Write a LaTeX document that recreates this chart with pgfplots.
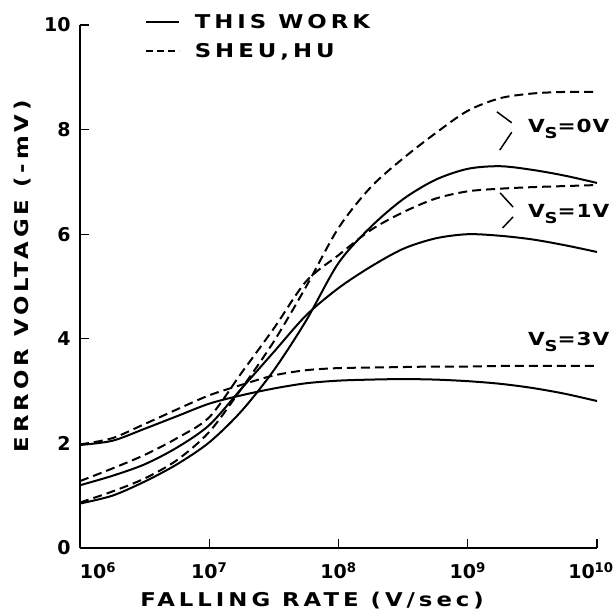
\documentclass[border=0pt]{standalone}
\usepackage{fontspec}
\setmainfont{DejaVu Sans}
\newfontfamily\labfont{DejaVu Sans}[FakeStretch=1.2, LetterSpace=21]
\newfontfamily\vsfont{DejaVu Sans}[FakeStretch=1.2, LetterSpace=5]
\usepackage{pgfplots}
\pgfplotsset{compat=1.18}
\pgfplotstableread{
x        s0    d0    s1    d1    s3    d3
1e6      0.85  0.87  1.20  1.28  1.97  1.98
1.778e6  1.00  1.08  1.38  1.52  2.05  2.10
3.162e6  1.27  1.33  1.60  1.78  2.28  2.37
5.623e6  1.60  1.68  1.92  2.10  2.52  2.65
1e7      2.02  2.22  2.35  2.50  2.76  2.92
1.778e7  2.62  3.05  3.05  3.35  2.92  3.12
3.162e7  3.40  3.95  3.75  4.20  3.05  3.30
5.623e7  4.35  5.00  4.45  5.10  3.15  3.40
1e8      5.45  6.12  4.97  5.60  3.20  3.44
1.778e8  6.14  6.90  5.38  6.08  3.22  3.45
3.162e8  6.67  7.45  5.72  6.42  3.23  3.46
5.623e8  7.04  7.93  5.92  6.68  3.22  3.47
1e9      7.25  8.36  6.00  6.82  3.19  3.47
1.778e9  7.30  8.60  5.97  6.87  3.14  3.48
3.162e9  7.23  8.69  5.90  6.90  3.06  3.48
5.623e9  7.12  8.72  5.79  6.92  2.95  3.48
1e10     6.98  8.72  5.66  6.94  2.81  3.48
}\datatab
\begin{document}
\begin{tikzpicture}
\begin{axis}[
  name=ax, clip=false,
  scale only axis, width=517pt, height=523pt,
  xmode=log, xmin=1e6, xmax=1e10, ymin=0, ymax=10,
  axis lines=left, axis line style={-, line width=1.4pt},
  tick align=inside, major tick length=9pt,
  tick style={line width=1.3pt, black},
  xminorticks=false,
  xtick={1e6,1e7,1e8,1e9,1e10},
  xticklabels={\hspace*{36pt}10\textsuperscript{6},10\textsuperscript{7},10\textsuperscript{8},10\textsuperscript{9},10\textsuperscript{10}\hspace*{12pt}},
  ytick={0,2,4,6,8,10},
  yticklabels={0,2,4,6,8,10},
  /pgf/number format/assume math mode=true,
  every tick label/.append style={font=\bfseries\fontsize{19}{22}\selectfont},
  yticklabel style={xshift=-6pt},
  xticklabel style={yshift=-11pt},
  xlabel={\labfont\bfseries FALLING RATE (V/sec)},
  ylabel={\labfont\bfseries ERROR VOLTAGE ({-}mV)},
  every axis x label/.style={at={(axis description cs:0.449,-0.1)}, anchor=center, font=\fontsize{19}{22}\selectfont},
  every axis y label/.style={at={(axis description cs:-0.112,0.52)}, rotate=90, anchor=center, font=\fontsize{19}{22}\selectfont},
  legend style={draw=none, fill=none, at={(axis description cs:0.125,1.024)}, anchor=north west,
    font=\labfont\bfseries\fontsize{19}{22}\selectfont, row sep=9pt, inner sep=0pt},
  legend cell align=left,
  legend image code/.code={\draw[#1] (0pt,0pt) -- (33pt,0pt); \path (46pt,0pt);},
  every axis plot/.append style={black, line width=2pt},
]
\addlegendimage{black, line width=2pt}
\addlegendentry{THIS WORK}
\addlegendimage{black, line width=2pt, dash pattern=on 7pt off 4pt}
\addlegendentry{SHEU,HU}
\addplot[smooth, forget plot] table[x=x, y=s0] {\datatab};
\addplot[smooth, forget plot, dash pattern=on 9pt off 5pt] table[x=x, y=d0] {\datatab};
\addplot[smooth, forget plot] table[x=x, y=s1] {\datatab};
\addplot[smooth, forget plot, dash pattern=on 9pt off 5pt] table[x=x, y=d1] {\datatab};
\addplot[smooth, forget plot] table[x=x, y=s3] {\datatab};
\addplot[smooth, forget plot, dash pattern=on 9pt off 5pt] table[x=x, y=d3] {\datatab};
% braces
\draw[line width=1.5pt] (axis cs:1.68e9,8.34) -- (axis cs:2.19e9,8.13);
\draw[line width=1.5pt] (axis cs:2.19e9,7.95) -- (axis cs:1.77e9,7.61);
\draw[line width=1.5pt] (axis cs:1.78e9,6.79) -- (axis cs:2.24e9,6.52);
\draw[line width=1.5pt] (axis cs:2.24e9,6.33) -- (axis cs:1.86e9,6.12);
\node[anchor=base east, inner sep=0pt, font=\vsfont\bfseries\fontsize{18}{20}\selectfont] at (axis cs:1.25e10,7.95) {V\raisebox{-6pt}{\fontsize{15}{15}\selectfont S}=0V};
\node[anchor=base east, inner sep=0pt, font=\vsfont\bfseries\fontsize{18}{20}\selectfont] at (axis cs:1.25e10,6.31) {V\raisebox{-6pt}{\fontsize{15}{15}\selectfont S}=1V};
\node[anchor=base east, inner sep=0pt, font=\vsfont\bfseries\fontsize{18}{20}\selectfont] at (axis cs:1.25e10,3.88) {V\raisebox{-6pt}{\fontsize{15}{15}\selectfont S}=3V};
\end{axis}
\pgfresetboundingbox
\path ([shift={(-80pt,-66pt)}]ax.south west) rectangle ([shift={(19pt,25pt)}]ax.north east);
\end{tikzpicture}
\end{document}
